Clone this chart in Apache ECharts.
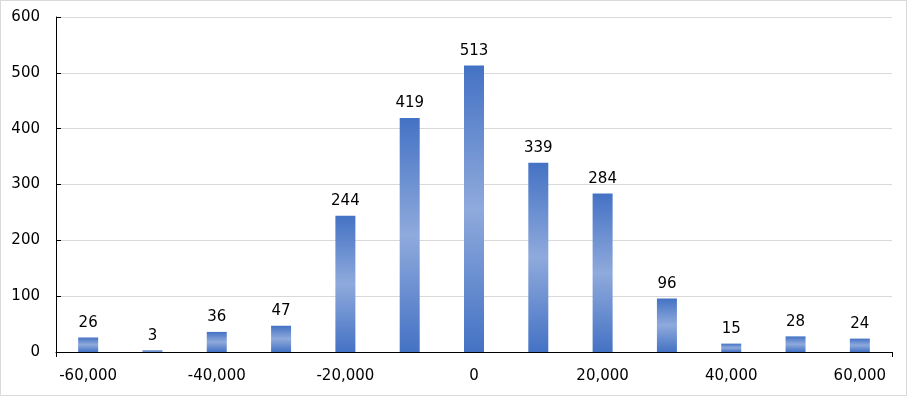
<!DOCTYPE html>
<html><head><meta charset="utf-8">
<script src="https://cdn.jsdelivr.net/npm/echarts@6/dist/echarts.min.js"></script>
<style>html,body{margin:0;padding:0;background:#fff}#c{width:907px;height:396px;box-sizing:border-box;border:1px solid #d9d9d9}</style>
</head><body><div id="c"></div>
<script>
var categories = ['-60,000','-50,000','-40,000','-30,000','-20,000','-10,000','0','10,000','20,000','30,000','40,000','50,000','60,000'];
var counts = [26, 3, 36, 47, 244, 419, 513, 339, 284, 96, 15, 28, 24];
var yTicks = [0, 100, 200, 300, 400, 500, 600];

var chart = echarts.init(document.getElementById('c'), null, {renderer:'canvas'});
var font = 'DejaVu Sans';
chart.setOption({
  animation: false,
  textStyle: {fontFamily: font},
  grid: {left: 55, right: 14, top: 16, bottom: 43},
  xAxis: [{
    type: 'category', data: categories,
    axisLine: {lineStyle: {color: '#000', width: 1}},
    axisTick: {alignWithLabel: true, interval: 0, length: 5, lineStyle: {color: '#000'}},
    axisLabel: {interval: 1, color: '#000', fontFamily: font, fontSize: 15, margin: 17}
  }, {
    type: 'value', position: 'bottom', min: 0, max: 1, interval: 1,
    axisLine: {show: false}, splitLine: {show: false}, axisLabel: {show: false},
    axisTick: {show: true, length: 5, lineStyle: {color: '#000'}}
  }],
  yAxis: {
    type: 'value', min: yTicks[0], max: yTicks[yTicks.length-1], interval: 100,
    axisLine: {show: true, lineStyle: {color: '#000'}},
    axisTick: {show: true, inside: true, length: 5, lineStyle: {color: '#000'}},
    axisLabel: {color: '#000', fontFamily: font, fontSize: 15, margin: 16},
    splitLine: {lineStyle: {color: '#d9d9d9'}}
  },
  series: [{
    type: 'bar', data: counts, barWidth: 20, xAxisIndex: 0,
    itemStyle: {color: new echarts.graphic.LinearGradient(0,0,0,1,[
      {offset:0, color:'#4472c4'},{offset:0.5, color:'#8faadc'},{offset:1, color:'#4472c4'}])},
    label: {show: true, position: 'top', distance: 7, color: '#000', fontFamily: font, fontSize: 15}
  }]
});
</script></body></html>
